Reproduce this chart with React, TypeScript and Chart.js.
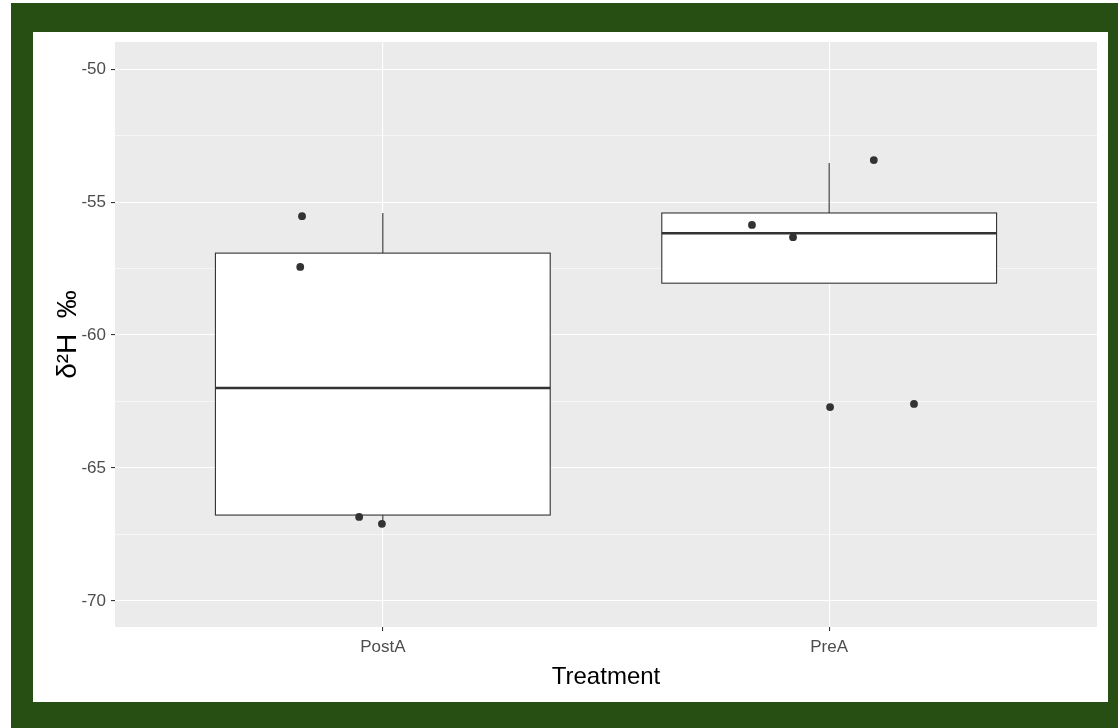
import React, { useEffect, useRef } from "react";
import { Chart, registerables } from "chart.js";

Chart.register(...registerables);

const GREEN = "#274e13";
const PANEL = "#ebebeb";
const INK = "#333333";

const categories = ["PostA", "PreA"];
// box statistics per category
const whiskerLow = [-67.07, -58.05];
const boxQ1 = [-66.77, -58.05];
const boxMedian = [-61.99, -56.17];
const boxQ3 = [-56.92, -55.41];
const whiskerHigh = [-55.41, -53.53];

// jittered observations
const postAJitter = [-0.181, -0.185, -0.053, -0.002];
const postAValues = [-55.53, -57.44, -66.84, -67.1];
const preAJitter = [0.1, -0.173, -0.081, 0.002, 0.19];
const preAValues = [-53.42, -55.86, -56.32, -62.71, -62.59];

const yMajorTicks = [-70, -65, -60, -55, -50];
const yMinorTicks = [-67.5, -62.5, -57.5, -52.5];

const FONT = "'Liberation Sans', Arial, sans-serif";

const boxPlugin = {
  id: "boxes",
  beforeDraw(chart: any) {
    const { ctx, chartArea } = chart;
    ctx.save();
    ctx.fillStyle = PANEL;
    ctx.fillRect(chartArea.left, chartArea.top, chartArea.right - chartArea.left, chartArea.bottom - chartArea.top);
    ctx.restore();
  },
  beforeDatasetsDraw(chart: any) {
    const { ctx } = chart;
    const xs = chart.scales.x;
    const ys = chart.scales.y;
    const halfWidth = 0.375;
    ctx.save();
    ctx.strokeStyle = INK;
    categories.forEach((_, i) => {
      const c = i + 1;
      const xc = xs.getPixelForValue(c);
      const xl = xs.getPixelForValue(c - halfWidth);
      const xr = xs.getPixelForValue(c + halfWidth);
      const yLo = ys.getPixelForValue(whiskerLow[i]);
      const yQ1 = ys.getPixelForValue(boxQ1[i]);
      const yMed = ys.getPixelForValue(boxMedian[i]);
      const yQ3 = ys.getPixelForValue(boxQ3[i]);
      const yHi = ys.getPixelForValue(whiskerHigh[i]);
      ctx.lineWidth = 1.1;
      ctx.beginPath();
      ctx.moveTo(xc, yQ3);
      ctx.lineTo(xc, yHi);
      ctx.moveTo(xc, yQ1);
      ctx.lineTo(xc, yLo);
      ctx.stroke();
      ctx.fillStyle = "#ffffff";
      ctx.fillRect(xl, yQ3, xr - xl, yQ1 - yQ3);
      ctx.strokeRect(xl, yQ3, xr - xl, yQ1 - yQ3);
      ctx.lineWidth = 2.4;
      ctx.beginPath();
      ctx.moveTo(xl, yMed);
      ctx.lineTo(xr, yMed);
      ctx.stroke();
    });
    ctx.restore();
  },
};

export default function App() {
  const ref = useRef<HTMLCanvasElement>(null);

  useEffect(() => {
    if (!ref.current) return;
    const points = [
      ...postAValues.map((v, k) => ({ x: 1 + postAJitter[k], y: v })),
      ...preAValues.map((v, k) => ({ x: 2 + preAJitter[k], y: v })),
    ];
    const isMajor = (v: number) => yMajorTicks.includes(v);
    const chart = new Chart(ref.current, {
      type: "scatter",
      data: {
        datasets: [
          {
            data: points,
            pointRadius: 3.9,
            pointBorderWidth: 0,
            pointBackgroundColor: INK,
            pointBorderColor: INK,
            showLine: false,
          },
        ],
      },
      options: {
        animation: false,
        responsive: false,
        layout: { padding: { top: 10, right: 11, left: 0, bottom: 0 } },
        plugins: { legend: { display: false }, tooltip: { enabled: false } },
        scales: {
          x: {
            type: "linear",
            min: 0.4,
            max: 2.6,
            afterBuildTicks: (s: any) => {
              s.ticks = categories.map((_, i) => ({ value: i + 1 }));
            },
            afterFit: (s: any) => {
              s.height = 75;
              s.paddingLeft = 0;
              s.paddingRight = 0;
            },
            border: { display: false },
            grid: {
              color: "#ffffff",
              lineWidth: 1.1,
              tickColor: INK,
              tickLength: 4,
              tickWidth: 1.1,
            },
            ticks: {
              autoSkip: false,
              maxRotation: 0,
              padding: 6,
              color: "#4d4d4d",
              font: { family: FONT, size: 17 },
              callback: (v: any) => categories[Math.round(Number(v)) - 1] ?? "",
            },
            title: {
              display: true,
              text: "Treatment",
              color: "#000000",
              font: { family: FONT, size: 24 },
              padding: { top: 0, bottom: 10 },
            },
          },
          y: {
            type: "linear",
            min: -70.98,
            max: -48.98,
            afterBuildTicks: (s: any) => {
              s.ticks = [...yMajorTicks, ...yMinorTicks]
                .sort((a, b) => a - b)
                .map((v) => ({ value: v }));
            },
            afterFit: (s: any) => {
              s.width = 82;
              s.paddingTop = 0;
              s.paddingBottom = 0;
            },
            border: { display: false },
            grid: {
              color: "#ffffff",
              lineWidth: (c: any) => (isMajor(c.tick?.value) ? 1.1 : 0.55),
              tickColor: (c: any) => (isMajor(c.tick?.value) ? INK : "rgba(0,0,0,0)"),
              tickLength: 4,
              tickWidth: 1.1,
            },
            ticks: {
              autoSkip: false,
              padding: 5,
              color: "#4d4d4d",
              font: { family: FONT, size: 17 },
              callback: (v: any) => (isMajor(Number(v)) ? String(v) : ""),
            },
            title: {
              display: true,
              text: "δ²H  ‰",
              color: "#000000",
              font: { family: FONT, size: 28 },
              padding: { top: 18, bottom: 0 },
            },
          },
        },
      },
      plugins: [boxPlugin],
    });
    return () => chart.destroy();
  }, []);

  return (
    <div style={{ position: "absolute", left: 0, top: 0, width: 1118, height: 728, background: "#ffffff", overflow: "hidden" }}>
      <div style={{ position: "absolute", left: 11, top: 3, width: 1107, height: 725, background: GREEN }} />
      <div style={{ position: "absolute", left: 33, top: 32, width: 1075, height: 670, background: "#ffffff" }}>
        <canvas ref={ref} width={1075} height={670} style={{ display: "block", width: 1075, height: 670 }} />
      </div>
    </div>
  );
}
